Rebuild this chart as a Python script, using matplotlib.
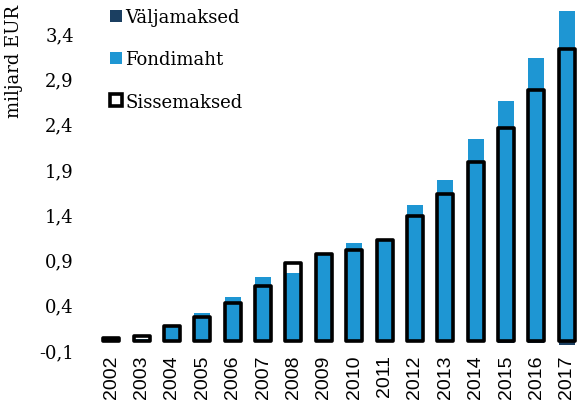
import matplotlib
matplotlib.use("Agg")
import matplotlib.pyplot as plt
import matplotlib.patches as mpatches
import numpy as np

years = ["2002", "2003", "2004", "2005", "2006", "2007", "2008", "2009",
         "2010", "2011", "2012", "2013", "2014", "2015", "2016", "2017"]
fondimaht = [0.01, 0.02, 0.15, 0.31, 0.49, 0.71, 0.75, 0.95,
             1.08, 1.10, 1.50, 1.78, 2.23, 2.65, 3.13, 3.65]
sissemaksed = [0.03, 0.05, 0.16, 0.26, 0.42, 0.61, 0.86, 0.96,
               1.00, 1.11, 1.38, 1.62, 1.98, 2.35, 2.77, 3.23]
valjamaksed = [0, 0, 0, 0, 0, 0, 0, 0,
               0, 0, 0, 0, -0.015, -0.02, -0.025, -0.045]
yticks = [-0.1, 0.4, 0.9, 1.4, 1.9, 2.4, 2.9, 3.4]

navy = "#1b3f61"
blue = "#1e96d3"
serif = "DejaVu Serif"

fig = plt.figure(figsize=(5.82, 4.10), dpi=100)
ax = fig.add_axes([96/582, 59/410, 486/582, 344/410])

x = np.arange(len(years))
w = 0.525
ax.bar(x, valjamaksed, w, color=navy, zorder=1)
ax.bar(x, fondimaht, w, color=blue, zorder=2)
ax.bar(x, sissemaksed, w, facecolor="none", edgecolor="black",
       linewidth=2.6, joinstyle="round", zorder=3)

ax.set_xlim(-0.5, len(years) - 0.5)
ax.set_ylim(-0.1, 3.7)
ax.set_yticks(yticks)
ax.set_yticklabels([("%.1f" % v).replace(".", ",") for v in yticks],
                   family=serif, fontsize=13)
ax.set_xticks(x)
ax.set_xticklabels(years, rotation=90, family="Liberation Sans", fontsize=14)
ax.tick_params(axis="y", length=0, pad=16)
ax.tick_params(axis="x", length=0, pad=3)
for s in ax.spines.values():
    s.set_visible(False)

fig.text(14/582, 1 - 62/410, "miljard EUR", rotation=90, family=serif,
         fontsize=13, ha="center", va="center")

handles = [mpatches.Patch(facecolor=navy, edgecolor="none"),
           mpatches.Patch(facecolor=blue, edgecolor="none"),
           mpatches.Patch(facecolor="white", edgecolor="black", linewidth=2.6)]
ax.legend(handles, ["Väljamaksed", "Fondimaht", "Sissemaksed"],
          loc="upper left", bbox_to_anchor=(110/582, 1 - 9/410),
          bbox_transform=fig.transFigure, frameon=False,
          prop={"family": serif, "size": 13},
          handlelength=0.65, handleheight=0.65, handletextpad=0.2,
          labelspacing=1.35, borderpad=0, borderaxespad=0)

fig.savefig("out.png", dpi=100)
